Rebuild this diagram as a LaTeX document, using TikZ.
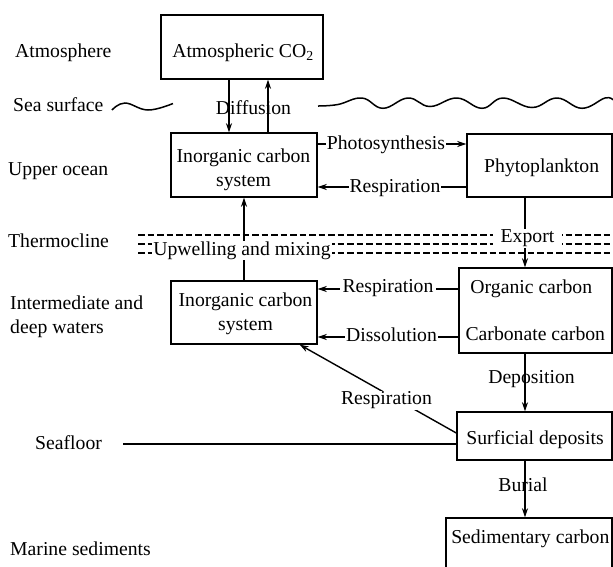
\documentclass[tikz,border=0pt]{standalone}
\usepackage{fontspec}
\setmainfont{Liberation Serif}
\usetikzlibrary{arrows.meta}
\begin{document}
\begin{tikzpicture}[x=1pt,y=-1pt,
  txt/.style={font=\fontsize{19.7}{24}\selectfont, inner sep=0pt},
  lbl/.style={txt, fill=white, inner sep=1pt},
  box/.style={draw, line width=1.4pt, inner sep=0pt},
  arr/.style={line width=1.4pt, -{Stealth[length=9pt,width=6pt]}},
  ln/.style={line width=1.4pt},
  dsh/.style={line width=1.1pt, dash pattern=on 6.5pt off 3pt},
  wave/.style={line width=1.5pt}]
\useasboundingbox (0,0) rectangle (613,566);

% region labels
\node[txt, anchor=base west] (latm) at (15,57.3) {Atmosphere};
\node[txt, anchor=base west] (lsea) at (13,111.7) {Sea surface};
\node[txt, anchor=base west] (lup) at (8,175) {Upper ocean};
\node[txt, anchor=base west] (lth) at (8,247.3) {Thermocline};
\node[txt, anchor=north west, align=left] (lint) at (10,296) {Intermediate and\\deep waters};
\node[txt, anchor=base west] (lsf) at (35,449.3) {Seafloor};
\node[txt, anchor=base west] (lms) at (10,555) {Marine sediments};

% sea surface waves
\draw[wave] plot[smooth, tension=0.7] coordinates {(112,110) (125,103) (148,110) (173,103.5)};
\draw[wave] plot[smooth, tension=0.7] coordinates {(318,106) (338,104.5) (362,98) (383,108.3) (408,98) (430,106.5) (457,98) (482,108.3) (503,98) (532,107.5) (557,98) (582,108.3) (605,98) (613,100)};

% thermocline dashed lines
\coordinate (t1) at (138,235);
\coordinate (t2) at (138,244);
\coordinate (t3) at (138,253);
\coordinate (tr) at (613,0);
\draw[dsh] (t1) -- (t1 -| tr);
\draw[dsh] (t2) -- (t2 -| tr);
\draw[dsh] (t3) -- (t3 -| tr);

% boxes
\node[box, minimum width=162pt, minimum height=64pt] (atm) at (242,47) {};
\node[box, minimum width=146pt, minimum height=64pt] (ui) at (244,165) {};
\node[box, minimum width=145pt, minimum height=63pt] (phyto) at (539.5,165.5) {};
\node[box, minimum width=153pt, minimum height=85pt] (oc) at (535.5,310.5) {};
\node[box, minimum width=146pt, minimum height=63pt] (li) at (244,312.5) {};
\node[box, minimum width=155pt, minimum height=48pt] (sd) at (534.5,436) {};
\node[box, minimum width=166pt, minimum height=82pt] (sc) at (529,559) {};

% box texts
\node[txt, anchor=base] (atmt) at (243,57.3) {Atmospheric CO\textsubscript{2}};
\node[txt, align=center] (uit) at (243.5,170) {Inorganic carbon\\system};
\node[txt] (phytot) at (541.7,167.8) {Phytoplankton};
\node[txt] (orgt) at (531.3,288.7) {Organic carbon};
\node[txt] (cart) at (535.3,334) {Carbonate carbon};
\node[txt, align=center] (lit) at (245.5,313.5) {Inorganic carbon\\system};
\node[txt] (sdt) at (535,439.5) {Surficial deposits};
\node[txt] (sct) at (530.3,539) {Sedimentary carbon};

% helper coordinates
\coordinate (dd) at (229,0);
\coordinate (du) at (268,0);
\coordinate (ex) at (525,0);
\coordinate (yps) at (0,144);
\coordinate (yr1) at (0,187);
\coordinate (yr2) at (0,289);
\coordinate (yds) at (0,337);
\coordinate (sf) at (123,444);

% connectors
\draw[arr] (atm.south -| dd) -- (ui.north -| dd);
\draw[arr] (ui.north -| du) -- (atm.south -| du);
\draw[arr] (ui.east |- yps) -- (phyto.west |- yps);
\draw[arr] (phyto.west |- yr1) -- (ui.east |- yr1);
\draw[arr] (li.north) -- (ui.south);
\draw[arr] (phyto.south -| ex) -- (oc.north -| ex);
\draw[arr] (oc.west |- yr2) -- (li.east |- yr2);
\draw[arr] (oc.west |- yds) -- (li.east |- yds);
\draw[arr] (oc.south -| ex) -- (sd.north -| ex);
\draw[arr] ([yshift=3pt]sd.west) -- ([xshift=-18pt]li.south east);
\draw[arr] (sd.south -| ex) -- (sc.north -| ex);
\draw[ln] (sf) -- (sf -| sd.west);

% connector labels
\node[txt] (ldiff) at (253.5,107.2) {Diffusion};
\node[lbl] (lps) at (386,144.5) {Photosynthesis};
\node[lbl] (lr1) at (395,188) {Respiration};
\node[lbl] (lupw) at (242,250.5) {Upwelling and mixing};
\node[lbl, inner xsep=8pt] (lexp) at (527.5,238.5) {Export};
\node[lbl, inner xsep=3pt] (lr2) at (388,288) {Respiration};
\node[lbl] (lds) at (391.5,335) {Dissolution};
\node[txt] (ldep) at (531.5,379.5) {Deposition};
\node[lbl] (lr3) at (386.5,400.5) {Respiration};
\node[txt] (lbur) at (523,484.3) {Burial};
\end{tikzpicture}
\end{document}
